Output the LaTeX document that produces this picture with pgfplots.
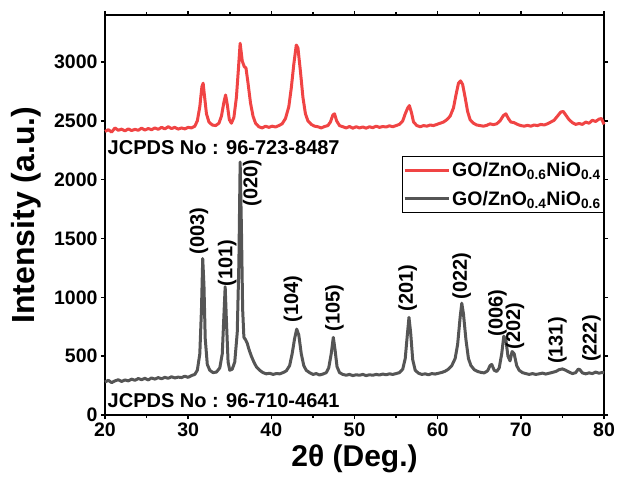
\documentclass[border=0pt]{standalone}
\usepackage{fontspec}
\setmainfont{Liberation Sans}
\usepackage{pgfplots}
\pgfplotsset{compat=1.18}
\definecolor{xrdred}{HTML}{F04444}
\definecolor{xrdgray}{HTML}{555555}
\begin{document}
\begin{tikzpicture}
\useasboundingbox (-105pt,-71pt) rectangle (512pt,415pt);
\begin{axis}[
  scale only axis,
  width=499pt, height=400pt,
  xmin=20, xmax=80, ymin=0, ymax=3400,
  xtick={20,30,...,80}, minor x tick num=1,
  ytick={0,500,...,3000},
  tick align=outside, major tick length=4pt, minor tick length=3pt,
  tick style={black, line width=1.5pt},
  axis line style={black, line width=2.5pt},
  /pgf/number format/assume math mode=true,
  /pgf/number format/1000 sep={},
  ticklabel style={font=\fontsize{19.5}{22}\selectfont\bfseries},
  xlabel={2θ (Deg.)},
  ylabel={Intensity (a.u.)},
  xlabel style={font=\fontsize{30}{34}\selectfont\bfseries, yshift=-2pt},
  ylabel style={font=\fontsize{32}{36}\selectfont\bfseries, yshift=6pt},
  legend style={at={(1,0.6475)}, anchor=north east, draw=black, line width=0.8pt,
    font=\fontsize{19.5}{22}\selectfont\bfseries, inner xsep=1pt, inner ysep=4pt,
    cells={anchor=west}, row sep=9pt},
  legend image code/.code={\draw[#1, line width=3pt] (0pt,0pt) -- (44pt,0pt);},
  clip=false,
]
\addplot[xrdred, line width=3pt, line join=round] coordinates {
(20.0,2410) (20.4,2425) (20.8,2405) (21.2,2440) (21.6,2420) (22.0,2430) (22.4,2415)
(22.8,2432) (23.2,2418) (23.6,2428) (24.0,2420) (24.4,2438) (24.8,2422) (25.2,2435)
(25.6,2425) (26.0,2440) (26.4,2428) (26.8,2445) (27.2,2432) (27.6,2450) (28.0,2435)
(28.4,2445) (28.8,2430) (29.2,2440) (29.6,2432) (30.0,2445) (30.4,2440) (30.8,2455)
(31.1,2500) (31.4,2620) (31.65,2790) (31.8,2820) (31.95,2720) (32.2,2560) (32.5,2490)
(32.9,2465) (33.3,2460) (33.7,2480) (34.0,2540) (34.3,2660) (34.5,2720) (34.7,2640)
(34.95,2510) (35.2,2480) (35.5,2530) (35.8,2700) (36.05,2950) (36.25,3160) (36.5,3010)
(36.75,2960) (36.95,2950) (37.2,2820) (37.5,2650) (37.8,2540) (38.1,2480) (38.5,2450)
(38.9,2440) (39.3,2455) (39.7,2445) (40.1,2455) (40.5,2448) (40.9,2460) (41.3,2475)
(41.7,2520) (42.1,2620) (42.4,2780) (42.7,2980) (43.0,3145) (43.2,3120) (43.5,2920)
(43.8,2700) (44.1,2560) (44.4,2500) (44.8,2470) (45.2,2455) (45.6,2450) (46.0,2440)
(46.4,2452) (46.8,2460) (47.1,2490) (47.4,2550) (47.6,2560) (47.85,2500) (48.2,2460)
(48.6,2450) (49.0,2440) (49.4,2452) (49.8,2438) (50.2,2450) (50.6,2440) (51.0,2448)
(51.4,2438) (51.8,2450) (52.2,2442) (52.6,2455) (53.0,2445) (53.4,2452) (53.8,2448)
(54.2,2458) (54.6,2450) (55.0,2460) (55.4,2470) (55.8,2500) (56.1,2560) (56.4,2610)
(56.6,2630) (56.85,2570) (57.1,2490) (57.5,2460) (57.9,2450) (58.3,2460) (58.7,2455)
(59.1,2465) (59.5,2460) (59.9,2470) (60.3,2480) (60.7,2490) (61.1,2510) (61.5,2540)
(61.9,2610) (62.2,2720) (62.5,2820) (62.75,2840) (63.0,2810) (63.3,2700) (63.6,2580)
(63.9,2510) (64.3,2480) (64.7,2465) (65.1,2460) (65.5,2455) (65.9,2462) (66.3,2475)
(66.7,2468) (67.1,2475) (67.5,2500) (67.9,2545) (68.2,2560) (68.5,2520) (68.8,2490)
(69.2,2485) (69.6,2470) (70.0,2460) (70.4,2455) (70.8,2462) (71.2,2455) (71.6,2465)
(72.0,2460) (72.4,2470) (72.8,2465) (73.2,2475) (73.6,2490) (74.0,2505) (74.4,2540)
(74.8,2575) (75.1,2580) (75.4,2550) (75.8,2510) (76.2,2485) (76.6,2470) (77.0,2478)
(77.4,2470) (77.8,2490) (78.2,2480) (78.6,2505) (79.0,2495) (79.4,2515) (79.7,2520)
(80.0,2470)
};
\addlegendentry{GO/ZnO\textsubscript{0.6}NiO\textsubscript{0.4}}
\addplot[xrdgray, line width=3pt, line join=round] coordinates {
(20.0,280) (20.4,295) (20.8,275) (21.2,290) (21.6,300) (22.0,285) (22.4,298) (22.8,290)
(23.2,305) (23.6,295) (24.0,310) (24.4,300) (24.8,312) (25.2,298) (25.6,315) (26.0,305)
(26.4,318) (26.8,308) (27.2,320) (27.6,312) (28.0,325) (28.4,315) (28.8,322) (29.2,318)
(29.6,330) (30.0,320) (30.4,335) (30.8,345) (31.1,380) (31.4,520) (31.6,900) (31.75,1330)
(31.9,1100) (32.05,650) (32.3,430) (32.6,380) (33.0,360) (33.4,365) (33.8,400) (34.1,520)
(34.3,850) (34.45,1090) (34.6,800) (34.8,450) (35.0,380) (35.3,390) (35.6,450) (35.9,700)
(36.1,1300) (36.25,2150) (36.4,1600) (36.55,900) (36.7,660) (36.9,640) (37.1,610)
(37.3,560) (37.6,500) (37.9,450) (38.2,410) (38.6,380) (39.0,360) (39.4,350) (39.8,355)
(40.2,345) (40.6,352) (41.0,350) (41.4,360) (41.8,375) (42.2,420) (42.5,520) (42.8,650)
(43.05,730) (43.3,680) (43.6,520) (43.9,420) (44.2,380) (44.6,360) (45.0,345) (45.4,352)
(45.8,340) (46.2,348) (46.6,360) (46.9,400) (47.2,520) (47.45,660) (47.65,560) (47.9,410)
(48.2,360) (48.6,345) (49.0,338) (49.4,345) (49.8,335) (50.2,342) (50.6,338) (51.0,345)
(51.4,335) (51.8,342) (52.2,338) (52.6,345) (53.0,340) (53.4,348) (53.8,342) (54.2,350)
(54.6,345) (55.0,352) (55.4,360) (55.8,390) (56.1,480) (56.35,680) (56.55,830) (56.75,700)
(57.0,470) (57.3,380) (57.7,355) (58.1,345) (58.5,350) (58.9,342) (59.3,352) (59.7,348)
(60.1,355) (60.5,362) (60.9,372) (61.3,390) (61.7,420) (62.1,480) (62.4,600) (62.7,830)
(62.9,950) (63.1,860) (63.4,640) (63.7,480) (64.0,420) (64.4,385) (64.8,370) (65.2,362)
(65.6,358) (66.0,375) (66.3,420) (66.5,430) (66.8,380) (67.1,370) (67.4,400) (67.7,520)
(67.95,670) (68.2,640) (68.45,500) (68.7,460) (68.95,540) (69.2,520) (69.5,420) (69.8,380)
(70.2,360) (70.6,352) (71.0,345) (71.4,352) (71.8,345) (72.2,350) (72.6,356) (73.0,348)
(73.4,355) (73.8,362) (74.2,370) (74.6,385) (75.0,392) (75.4,380) (75.8,365) (76.2,352)
(76.6,360) (76.9,390) (77.1,385) (77.4,358) (77.8,350) (78.2,358) (78.6,352) (79.0,365)
(79.4,355) (79.8,362) (80.0,358)
};
\addlegendentry{GO/ZnO\textsubscript{0.4}NiO\textsubscript{0.6}}

\node[anchor=west, font=\fontsize{20}{22}\selectfont\bfseries, inner sep=0pt]
  at (axis cs:20.3,2271) {JCPDS No : 96-723-8487};
\node[anchor=west, font=\fontsize{20}{22}\selectfont\bfseries, inner sep=0pt]
  at (axis cs:20.3,119) {JCPDS No : 96-710-4641};

\begin{scope}[every node/.style={rotate=90, anchor=west, inner sep=0pt,
    font=\fontsize{20}{22}\selectfont\bfseries}]
\node at (axis cs:31.3,1364) {(003)};
\node at (axis cs:34.7,1093) {(101)};
\node at (axis cs:37.7,1771) {(020)};
\node at (axis cs:42.6,788) {(104)};
\node at (axis cs:47.6,712) {(105)};
\node at (axis cs:56.4,881) {(201)};
\node at (axis cs:62.9,983) {(022)};
\node at (axis cs:67.2,669) {(006)};
\node at (axis cs:69.3,559) {(202)};
\node at (axis cs:74.4,432) {(131)};
\node at (axis cs:78.5,449) {(222)};
\end{scope}
\end{axis}
\end{tikzpicture}
\end{document}
